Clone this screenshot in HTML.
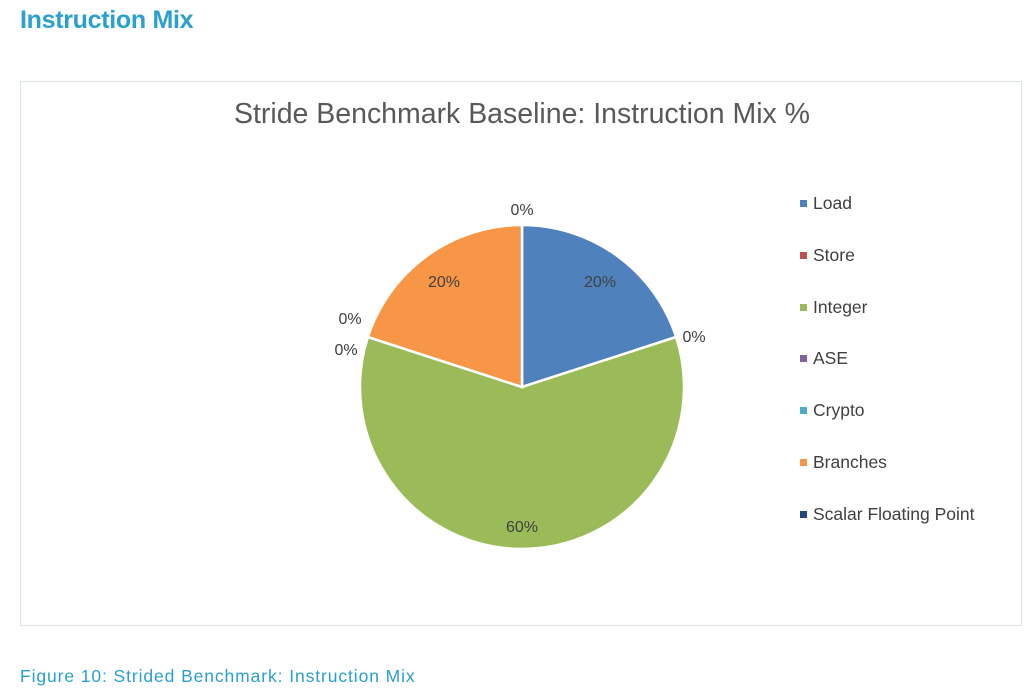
<!DOCTYPE html>
<html><head><style>
body{margin:0;width:1036px;height:700px;background:#fff;font-family:"Liberation Sans",sans-serif;position:relative;overflow:hidden}
.h{position:absolute;left:20px;top:6px;font-size:25px;color:#2a9fd0;font-weight:bold;letter-spacing:-0.3px}
.frame{position:absolute;left:20px;top:81px;width:1002px;height:545px;border:1px solid #dce6e6;box-sizing:border-box}
.cap{position:absolute;left:20px;top:666px;font-size:17.5px;color:#2a9fd0;letter-spacing:0.9px}
</style></head><body>
<div class="h">Instruction Mix</div>
<div class="frame"></div>
<svg width="1036" height="700" style="position:absolute;left:0;top:0" font-family="Liberation Sans, sans-serif">
<text x="522" y="123" text-anchor="middle" font-size="28.5" fill="#595959" textLength="576" lengthAdjust="spacingAndGlyphs">Stride Benchmark Baseline: Instruction Mix %</text>
<g stroke="#fff" stroke-width="2.5">
<path d="M522,387 L522,225 A162,162 0 0 1 676.1,337 Z" fill="#4f81bd"/>
<path d="M522,387 L676.1,337 A162,162 0 1 1 367.9,337 Z" fill="#9bbb59"/>
<path d="M522,387 L367.9,337 A162,162 0 0 1 522,225 Z" fill="#f79646"/>
</g>
<g font-size="16" fill="#404040" text-anchor="middle">
<text x="522" y="215">0%</text>
<text x="600" y="287">20%</text>
<text x="444" y="287">20%</text>
<text x="694" y="342">0%</text>
<text x="350" y="324">0%</text>
<text x="346" y="355">0%</text>
<text x="522" y="532">60%</text>
</g>
<g font-size="17.5" fill="#404040">
<rect x="800" y="200" width="7" height="7" fill="#4f81bd"/><text x="813" y="209">Load</text>
<rect x="800" y="252" width="7" height="7" fill="#c0504d"/><text x="813" y="261">Store</text>
<rect x="800" y="304" width="7" height="7" fill="#9bbb59"/><text x="813" y="313">Integer</text>
<rect x="800" y="355" width="7" height="7" fill="#8064a2"/><text x="813" y="364">ASE</text>
<rect x="800" y="407" width="7" height="7" fill="#4bacc6"/><text x="813" y="416">Crypto</text>
<rect x="800" y="459" width="7" height="7" fill="#f79646"/><text x="813" y="468">Branches</text>
<rect x="800" y="511" width="7" height="7" fill="#1f497d"/><text x="813" y="520">Scalar Floating Point</text>
</g>
</svg>
<div class="cap">Figure 10: Strided Benchmark: Instruction Mix</div>
</body></html>
